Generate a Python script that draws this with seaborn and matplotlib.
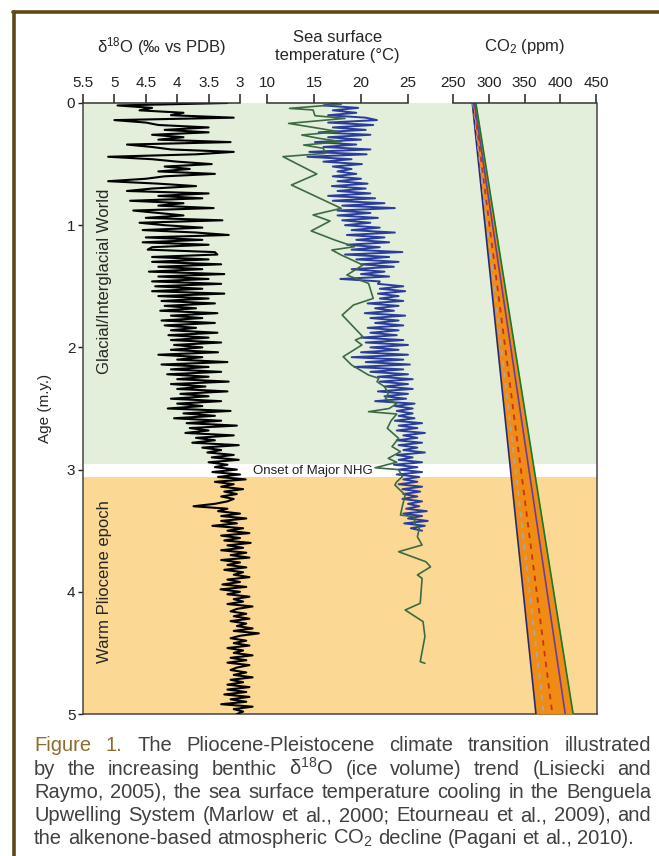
import numpy as np
import pandas as pd
import matplotlib
matplotlib.use('Agg')
import matplotlib.pyplot as plt
from matplotlib.lines import Line2D
import seaborn as sns

# benthic d18O stack, one value every 20 kyr from 0 to 5 Ma
d18o_age = np.round(np.arange(0, 5.001, 0.02), 2)
d18o = [3.2, 4.95, 4.4, 4.6, 3.9, 4.1, 3.1, 5.0, 4.5, 4.3,
        3.5, 4.2, 3.5, 4.4, 3.9, 4.3, 3.15, 4.8, 4.4, 4.1,
        3.1, 3.7, 5.1, 4.4, 4.0, 3.45, 4.2, 3.8, 4.3, 3.4,
        4.2, 4.5, 5.1, 4.3, 3.7, 4.4, 4.8, 3.5, 4.3, 3.6,
        4.75, 3.9, 4.3, 3.42, 4.7, 4.3, 3.9, 4.5, 3.28, 4.6,
        4.2, 3.6, 4.55, 3.7, 3.18, 4.5, 3.6, 4.55, 3.5, 4.4,
        4.47, 3.4, 3.36, 4.4, 3.5, 4.4, 3.3, 4.3, 3.6, 4.45,
        3.25, 4.3, 3.5, 4.4, 3.3, 4.35, 3.6, 4.4, 3.25, 4.3,
        3.5, 4.25, 3.4, 4.2, 3.7, 4.27, 3.36, 4.1, 3.6, 4.25,
        3.4, 4.2, 3.7, 4.1, 3.36, 4.14, 3.5, 4.1, 3.3, 4.05,
        3.6, 4.1, 3.35, 4.3, 3.6, 4.0, 3.2, 4.25, 3.5, 4.1,
        3.3, 4.16, 3.5, 4.0, 3.18, 4.1, 3.55, 4.0, 3.2, 3.95,
        3.5, 4.1, 3.3, 4.0, 3.6, 4.15, 3.15, 3.9, 3.4, 4.05,
        3.3, 3.85, 3.05, 3.8, 3.5, 3.87, 3.1, 3.7, 3.4, 3.76,
        3.02, 3.6, 3.3, 3.52, 3.1, 3.45, 3.02, 3.5, 3.2, 3.4,
        3.05, 3.44, 3.0, 3.35, 2.91, 3.4, 3.1, 3.3, 2.95, 3.25,
        3.05, 3.3, 3.1, 3.2, 3.4, 3.74, 3.2, 3.35, 3.0, 3.3,
        2.9, 3.3, 3.05, 3.44, 2.95, 3.2, 2.85, 3.3, 3.0, 3.25,
        2.83, 3.2, 2.95, 3.3, 2.9, 3.15, 2.85, 3.3, 3.0, 3.2,
        2.9, 3.25, 2.95, 3.1, 2.85, 3.2, 3.0, 3.28, 2.9, 3.31,
        3.0, 3.2, 2.85, 3.1, 2.95, 3.2, 2.8, 3.05, 3.15, 2.9,
        3.1, 2.85, 3.15, 2.9, 3.05, 2.8, 3.1, 2.7, 3.0, 3.15,
        2.9, 3.1, 2.85, 3.2, 2.95, 3.1, 2.8, 3.15, 2.9, 3.2,
        2.85, 3.05, 3.15, 2.9, 3.1, 2.8, 3.15, 2.95, 3.2, 2.85,
        3.2, 2.9, 3.25, 2.85, 3.15, 2.9, 3.3, 2.8, 3.1, 2.95,
        3.05]

# Benguela SST, high resolution record (blue), every 20 kyr from 0 to 3.5 Ma
sst_blue_age = np.round(np.arange(0, 3.501, 0.02), 2)
sst_blue = [17.5, 16.0, 19.7, 17.0, 19.5, 16.5, 20.5, 21.7, 16.5, 21.3,
            17.0, 20.5, 15.5, 21.0, 16.5, 20.0, 15.1, 19.5, 16.0, 21.0,
            14.5, 20.6, 14.3, 19.0, 16.0, 20.1, 17.0, 19.0, 17.5, 19.5,
            17.0, 20.0, 17.5, 20.7, 16.9, 20.5, 17.5, 21.0, 16.5, 21.5,
            17.0, 22.5, 18.0, 23.6, 17.5, 21.0, 17.5, 21.8, 18.0, 21.0,
            18.3, 22.0, 19.0, 23.6, 18.5, 22.5, 19.5, 23.0, 18.5, 22.0,
            19.0, 24.4, 18.3, 23.0, 19.5, 24.0, 20.0, 23.5, 19.0, 22.5,
            20.0, 23.0, 17.8, 22.0, 21.8, 24.5, 22.0, 24.7, 21.8, 24.0,
            22.0, 24.5, 20.7, 24.0, 21.5, 23.5, 20.4, 24.7, 21.0, 24.0,
            21.5, 24.5, 20.7, 24.0, 21.0, 23.8, 20.0, 24.5, 20.5, 25.0,
            21.0, 24.0, 20.0, 25.0, 19.0, 24.5, 20.5, 25.2, 19.3, 24.5,
            21.0, 25.0, 21.8, 25.5, 22.0, 25.0, 22.5, 25.5, 21.8, 25.0,
            22.5, 24.8, 21.5, 25.7, 23.6, 25.5, 23.8, 25.5, 24.0, 25.7,
            23.6, 26.5, 24.0, 26.0, 23.8, 26.8, 24.5, 26.0, 23.8, 26.5,
            24.0, 26.0, 24.5, 26.8, 23.8, 25.5, 24.0, 26.5, 23.5, 26.0,
            24.0, 26.5, 23.8, 26.2, 24.5, 26.0, 24.0, 26.5, 24.4, 26.3,
            24.5, 26.0, 24.4, 26.5, 25.0, 26.2, 24.8, 27.0, 24.5, 26.5,
            25.0, 27.1, 24.6, 26.8, 25.3, 26.5]

# Benguela SST, lower resolution record (green)
sst_green_age = [0.01, 0.044, 0.057, 0.104, 0.126, 0.167, 0.207, 0.235, 0.262, 0.289,
                 0.316, 0.344, 0.371, 0.412, 0.439, 0.581, 0.671, 0.862, 0.916, 0.966,
                 1.047, 1.121, 1.176, 1.203, 1.244, 1.326, 1.408, 1.476, 1.599, 1.653,
                 1.735, 1.913, 1.94, 1.98, 2.076, 2.144, 2.226, 2.253, 2.28, 2.321,
                 2.376, 2.42, 2.46, 2.5, 2.526, 2.545, 2.6, 2.662, 2.744, 2.812,
                 2.853, 2.908, 2.94, 2.985, 3.0, 3.058, 3.1, 3.126, 3.208, 3.3,
                 3.372, 3.385, 3.45, 3.481, 3.55, 3.617, 3.672, 3.754, 3.796, 3.862,
                 3.89, 4.094, 4.149, 4.244, 4.367, 4.572, 4.585]
sst_green = [17.9, 12.4, 14.9, 15.1, 18.3, 12.3, 15.5, 17.6, 13.7, 15.5,
             17.9, 13.9, 16.0, 16.2, 11.7, 15.3, 12.6, 17.9, 14.9, 16.7,
             14.7, 17.2, 19.3, 16.9, 17.9, 20.2, 18.5, 20.8, 21.3, 19.2,
             18.0, 20.2, 19.4, 20.1, 18.1, 19.0, 20.8, 21.9, 21.7, 22.5,
             22.9, 22.6, 23.8, 23.0, 20.8, 23.8, 23.2, 22.8, 24.0, 23.3,
             24.2, 22.9, 23.8, 21.5, 24.0, 24.4, 23.8, 23.6, 24.7, 24.4,
             24.2, 25.6, 25.8, 26.2, 26.0, 26.5, 24.0, 26.9, 27.4, 26.0,
             26.5, 26.3, 24.7, 26.6, 26.8, 26.3, 26.8]

# alkenone CO2 trend lines (ppm) at 0 and 5 Ma
co2_age = [0, 5]
co2_low = [277, 366]
co2_grey = [278, 377]
co2_red = [279, 389]
co2_purple = [280, 407]
co2_high = [282, 418]

age_ticks = [0, 1, 2, 3, 4, 5]
d18o_ticks = [5.5, 5, 4.5, 4, 3.5, 3]
sst_ticks = [10, 15, 20, 25]
co2_ticks = [250, 300, 350, 400, 450]

caption_lines = [
    'Figure 1. The Pliocene-Pleistocene climate transition illustrated',
    'by the increasing benthic δ$^{18}$O (ice volume) trend (Lisiecki and',
    'Raymo, 2005), the sea surface temperature cooling in the Benguela',
    'Upwelling System (Marlow et al., 2000; Etourneau et al., 2009), and',
    'the alkenone-based atmospheric CO$_2$ decline (Pagani et al., 2010).',
]

sns.set_style('white')
plt.rcParams['font.family'] = ['Liberation Sans', 'DejaVu Sans']
plt.rcParams['mathtext.default'] = 'regular'

W, H = 659, 856
TOP, BOT = 103, 714
fig = plt.figure(figsize=(W / 100, H / 100), dpi=100)


def box(x0, x1):
    return [x0 / W, 1 - BOT / H, (x1 - x0) / W, (BOT - TOP) / H]


# background panel with the two climate states
ax = fig.add_axes(box(83, 597))
ax.set_xlim(0, 1)
ax.set_ylim(5, 0)
ax.axhspan(0, 2.955, color='#e3efda', lw=0)
ax.axhspan(3.06, 5, color='#fbd995', lw=0)
ax.set_xticks([])
ax.set_yticks(age_ticks)
ax.tick_params(axis='y', left=True, length=3.5, width=1, pad=2, labelsize=11, colors='#222222')
ax.spines['top'].set_visible(False)
for s in ['left', 'right', 'bottom']:
    ax.spines[s].set_color('#444444')
    ax.spines[s].set_linewidth(1.1)
ax.text(-0.074, 2.5, 'Age (m.y.)', rotation=90, ha='center', va='center', fontsize=11,
        transform=ax.get_yaxis_transform())
ax.text(0.041, 1.46, 'Glacial/Interglacial World', rotation=90, ha='center', va='center',
        fontsize=12, transform=ax.get_yaxis_transform())
ax.text(0.041, 3.92, 'Warm Pliocene epoch', rotation=90, ha='center', va='center',
        fontsize=12, transform=ax.get_yaxis_transform())


def overlay(x0, x1, p_lo, p_hi, v_lo, v_hi, ticks, title):
    a = fig.add_axes(box(x0, x1), sharey=ax)
    k = (v_hi - v_lo) / (p_hi - p_lo)
    a.set_xlim(v_lo + (x0 - p_lo) * k, v_lo + (x1 - p_lo) * k)
    a.patch.set_visible(False)
    for s in ['left', 'right', 'bottom']:
        a.spines[s].set_visible(False)
    a.spines['top'].set_bounds(min(ticks), max(ticks))
    a.spines['top'].set_color('#333333')
    a.spines['top'].set_linewidth(1.1)
    a.xaxis.tick_top()
    a.set_xticks(ticks)
    a.set_xticklabels([f'{t:g}' for t in ticks])
    a.tick_params(axis='x', direction='out', length=6.5, width=1.1, pad=3,
                  labelsize=11, colors='#222222')
    a.tick_params(axis='y', left=False, labelleft=False)
    a.text((v_lo + v_hi) / 2, 1.093, title, ha='center', va='center', fontsize=12,
           linespacing=1.25, transform=a.get_xaxis_transform())
    return a


ax_d = overlay(83, 265, 83, 240, 5.5, 3, d18o_ticks, 'δ$^{18}$O (‰ vs PDB)')
ax_s = overlay(265, 450, 267, 408, 10, 25, sst_ticks, 'Sea surface\ntemperature (°C)')
ax_c = overlay(450, 597, 453, 596, 250, 450, co2_ticks, 'CO$_2$ (ppm)')

sns.lineplot(x=d18o, y=d18o_age, orient='y', estimator=None, ax=ax_d,
             color='black', lw=1.5)
sns.lineplot(x=sst_blue, y=sst_blue_age, orient='y', estimator=None, ax=ax_s,
             color='#2b3d9c', lw=1.4)
green = pd.DataFrame({'age': sst_green_age, 'sst': sst_green})
sns.lineplot(data=green, x='sst', y='age', orient='y', estimator=None, ax=ax_s,
             color='#3c6a44', lw=1.2)

ax_c.fill_betweenx(co2_age, co2_low, co2_high, color='#f08c14', lw=0)
sns.lineplot(x=co2_low, y=co2_age, orient='y', ax=ax_c, color='#23297a', lw=1.2)
sns.lineplot(x=co2_grey, y=co2_age, orient='y', ax=ax_c, color='#a8a8a8', lw=1.3,
             linestyle=(0, (3, 3)))
sns.lineplot(x=co2_red, y=co2_age, orient='y', ax=ax_c, color='#c8341a', lw=1.3,
             linestyle=(0, (3, 3)))
sns.lineplot(x=co2_purple, y=co2_age, orient='y', ax=ax_c, color='#6b3d9e', lw=1.2)
sns.lineplot(x=co2_high, y=co2_age, orient='y', ax=ax_c, color='#167a2e', lw=1.2)

for a in (ax_d, ax_s, ax_c):
    a.set_xlabel('')
    a.set_ylabel('')
ax.set_ylim(5, 0)

ax_d.text(2.80, 3.008, 'Onset of Major NHG', ha='left', va='center', fontsize=9.5,
          color='#222222')

# brown page frame
frame = '#5e4a17'
fig.add_artist(Line2D([13.5 / W, 13.5 / W], [0, 1 - 12 / H], color=frame, lw=2.6))
fig.add_artist(Line2D([12.5 / W, 1], [1 - 12 / H, 1 - 12 / H], color=frame, lw=2.6))

# justified caption, font sized so the longest line fits
renderer = fig.canvas.get_renderer()
cap_x0, cap_x1 = 34, 651
cap_base = [751, 775, 798, 821, 844]
cap_size = 14.5
longest = 0
for line in caption_lines[:-1]:
    t = fig.text(0, 0, line, fontsize=cap_size)
    longest = max(longest, t.get_window_extent(renderer).width)
    t.remove()
if longest > cap_x1 - cap_x0 - 10:
    cap_size = cap_size * (cap_x1 - cap_x0 - 10) / longest

for i, line in enumerate(caption_lines):
    words = line.split(' ')
    texts = []
    for j, w in enumerate(words):
        col = '#8c6d2e' if (i == 0 and j < 2) else '#404040'
        texts.append(fig.text(0, 1 - cap_base[i] / H, w, fontsize=cap_size, color=col,
                              va='baseline', ha='left'))
    widths = [t.get_window_extent(renderer).width for t in texts]
    if i < len(caption_lines) - 1:
        gap = (cap_x1 - cap_x0 - sum(widths)) / (len(words) - 1)
    else:
        gap = 0.28 * cap_size * 100 / 72
    x = cap_x0
    for t, wd in zip(texts, widths):
        t.set_x(x / W)
        x += wd + gap

fig.savefig('out.png', dpi=100)
